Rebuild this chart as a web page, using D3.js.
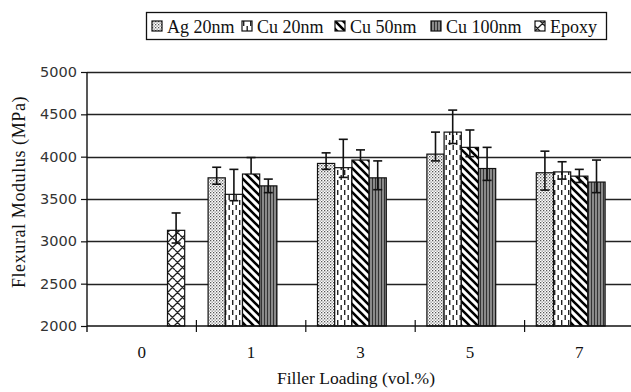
<!DOCTYPE html>
<html>
<head>
<meta charset="utf-8">
<script src="https://cdn.jsdelivr.net/npm/d3@7"></script>
<style>
  body { margin: 0; background: #fff; }
  svg { display: block; }
  .serif { font-family: "Liberation Serif", "Times New Roman", serif; fill: #111; }
</style>
</head>
<body>
<svg id="chart" width="631" height="392"></svg>
<script>
// ---- data ----
const categories = [ "0", "1", "3", "5", "7" ];
const seriesNames = [ "Ag 20nm", "Cu 20nm", "Cu 50nm", "Cu 100nm", "Epoxy" ];
const yTicks = [ 2000, 2500, 3000, 3500, 4000, 4500, 5000 ];

const agVals   = [ null, 3750, 3920, 4030, 3810 ];
const cu20Vals = [ null, 3555, 3870, 4290, 3820 ];
const cu50Vals = [ null, 3795, 3960, 4110, 3770 ];
const cu100Vals = [ null, 3655, 3750, 3860, 3700 ];
const epoxyVals = [ 3130, null, null, null, null ];

// error bars (plus / minus)
const agErrUp    = [ 0, 125, 125, 260, 255 ];
const agErrDn    = [ 0, 75, 70, 80, 205 ];
const cu20ErrUp  = [ 0, 295, 335, 260, 120 ];
const cu20ErrDn  = [ 0, 75, 115, 135, 85 ];
const cu50ErrUp  = [ 0, 195, 120, 205, 80 ];
const cu50ErrDn  = [ 0, 0, 0, 110, 75 ];
const cu100ErrUp = [ 0, 80, 200, 250, 260 ];
const cu100ErrDn = [ 0, 80, 140, 140, 125 ];
const epoxyErrUp = [ 205, 0, 0, 0, 0 ];
const epoxyErrDn = [ 150, 0, 0, 0, 0 ];

const seriesVals = [ agVals, cu20Vals, cu50Vals, cu100Vals, epoxyVals ];
const seriesUp = [ agErrUp, cu20ErrUp, cu50ErrUp, cu100ErrUp, epoxyErrUp ];
const seriesDn = [ agErrDn, cu20ErrDn, cu50ErrDn, cu100ErrDn, epoxyErrDn ];
const patIds = [ "pAg", "pCu20", "pCu50", "pCu100", "pEpoxy" ];

// ---- layout ----
const plotLeft = 87, plotRight = 634, plotTop = 72, plotBottom = 326;
const svg = d3.select( "#chart" );

// patterns
const defs = svg.append( "defs" );
function pattern( id, w, h ) {
  return defs.append( "pattern" ).attr( "id", id )
    .attr( "patternUnits", "userSpaceOnUse" )
    .attr( "width", w ).attr( "height", h );
}
let p = pattern( "pAg", 3, 3 );
p.append( "rect" ).attr( "width", 3 ).attr( "height", 3 ).attr( "fill", "#fff" );
p.append( "rect" ).attr( "width", 1.3 ).attr( "height", 1.3 ).attr( "fill", "#555" );
p.append( "rect" ).attr( "x", 1.5 ).attr( "y", 1.5 ).attr( "width", 1.3 ).attr( "height", 1.3 ).attr( "fill", "#888" );

p = pattern( "pCu20", 7, 10 );
p.append( "rect" ).attr( "width", 7 ).attr( "height", 10 ).attr( "fill", "#fff" );
p.append( "rect" ).attr( "x", 1 ).attr( "y", 0 ).attr( "width", 1.4 ).attr( "height", 5 ).attr( "fill", "#222" );
p.append( "rect" ).attr( "x", 4.5 ).attr( "y", 5 ).attr( "width", 1.4 ).attr( "height", 5 ).attr( "fill", "#222" );

p = pattern( "pCu50", 8, 8 );
p.append( "rect" ).attr( "width", 8 ).attr( "height", 8 ).attr( "fill", "#fff" );
p.append( "path" ).attr( "d", "M-2,-2 L10,10 M-2,6 L2,10 M6,-2 L10,2" )
  .attr( "stroke", "#000" ).attr( "stroke-width", 2.6 );

p = pattern( "pCu100", 3, 4 );
p.append( "rect" ).attr( "width", 3 ).attr( "height", 4 ).attr( "fill", "#8a8a8a" );
p.append( "rect" ).attr( "x", 0 ).attr( "width", 1 ).attr( "height", 4 ).attr( "fill", "#333" );

p = pattern( "pEpoxy", 10, 10 );
p.append( "rect" ).attr( "width", 10 ).attr( "height", 10 ).attr( "fill", "#fff" );
p.append( "path" ).attr( "d", "M-1,11 L11,-1 M-1,1 L1,-1 M9,11 L11,9 M0,5 L5,10 M5,0 L10,5" )
  .attr( "stroke", "#222" ).attr( "stroke-width", 1.3 ).attr( "fill", "none" );

// scales
const yScale = d3.scaleLinear().domain( [ 2000, 5000 ] ).range( [ plotBottom, plotTop ] );
const x0 = d3.scaleBand().domain( categories ).range( [ plotLeft, plotRight ] ).paddingInner( 0 ).paddingOuter( 0 );
const cw = x0.bandwidth();
const x1 = d3.scaleBand().domain( d3.range( seriesNames.length ) ).range( [ 11.7, cw - 11.7 ] ).padding( 0 );

// gridlines
svg.append( "g" ).selectAll( "line" )
  .data( yTicks.filter( t => t > 2000 ) )
  .enter().append( "line" )
  .attr( "x1", plotLeft ).attr( "x2", plotRight )
  .attr( "y1", d => Math.round( yScale( d ) ) + 0.5 ).attr( "y2", d => Math.round( yScale( d ) ) + 0.5 )
  .attr( "stroke", "#222" ).attr( "stroke-width", 1.3 );

// bars
const bars = [];
seriesVals.forEach( ( vals, s ) => {
  vals.forEach( ( v, c ) => {
    if ( v == null ) return;
    bars.push( { s, c, v, up: seriesUp[ s ][ c ], dn: seriesDn[ s ][ c ] } );
  } );
} );

svg.append( "g" ).selectAll( "rect" )
  .data( bars ).enter().append( "rect" )
  .attr( "x", d => x0( categories[ d.c ] ) + x1( d.s ) )
  .attr( "y", d => yScale( d.v ) )
  .attr( "width", x1.bandwidth() )
  .attr( "height", d => plotBottom - yScale( d.v ) )
  .attr( "fill", d => `url(#${patIds[ d.s ]})` )
  .attr( "stroke", "#111" ).attr( "stroke-width", 1.2 );

// error bars
const eb = svg.append( "g" ).attr( "stroke", "#111" ).attr( "stroke-width", 1.6 );
bars.forEach( d => {
  const cx = x0( categories[ d.c ] ) + x1( d.s ) + x1.bandwidth() / 2;
  const yHi = yScale( d.v + d.up ), yLo = yScale( d.v - d.dn );
  eb.append( "line" ).attr( "x1", cx ).attr( "x2", cx ).attr( "y1", yHi ).attr( "y2", yLo );
  if ( d.up > 0 ) eb.append( "line" ).attr( "x1", cx - 4.5 ).attr( "x2", cx + 4.5 ).attr( "y1", yHi ).attr( "y2", yHi );
  if ( d.dn > 0 ) eb.append( "line" ).attr( "x1", cx - 4.5 ).attr( "x2", cx + 4.5 ).attr( "y1", yLo ).attr( "y2", yLo );
} );

// y axis
const leftAxis = d3.axisLeft( yScale ).tickValues( yTicks ).tickSize( 6 ).tickPadding( 4 )
  .tickFormat( d3.format( "d" ) );
const gy = svg.append( "g" ).attr( "transform", `translate(${plotLeft},0)` ).call( leftAxis );
gy.select( ".domain" ).attr( "stroke", "#111" ).attr( "stroke-width", 1.4 ).attr( "d", `M0,${plotTop}V${plotBottom + 6}` );
gy.selectAll( ".tick line" ).attr( "stroke", "#111" ).attr( "stroke-width", 1.2 );
gy.selectAll( ".tick text" ).attr( "font-family", "DejaVu Sans, sans-serif" )
  .attr( "font-size", 14.5 ).attr( "fill", "#333" );

// x axis
svg.append( "line" ).attr( "x1", plotLeft ).attr( "x2", plotRight )
  .attr( "y1", plotBottom ).attr( "y2", plotBottom )
  .attr( "stroke", "#111" ).attr( "stroke-width", 1.4 );
svg.append( "g" ).selectAll( "line" )
  .data( categories.slice( 1 ) ).enter().append( "line" )
  .attr( "x1", d => x0( d ) ).attr( "x2", d => x0( d ) )
  .attr( "y1", plotBottom - 6 ).attr( "y2", plotBottom + 6 )
  .attr( "stroke", "#111" ).attr( "stroke-width", 1.2 );
svg.append( "g" ).selectAll( "text" )
  .data( categories ).enter().append( "text" )
  .attr( "class", "serif" )
  .attr( "x", d => x0( d ) + cw / 2 ).attr( "y", 358 )
  .attr( "text-anchor", "middle" ).attr( "font-size", 17 )
  .text( d => d );

// axis titles
svg.append( "text" ).attr( "class", "serif" )
  .attr( "x", 356 ).attr( "y", 384 ).attr( "text-anchor", "middle" )
  .attr( "font-size", 17.5 ).text( "Filler Loading (vol.%)" );
svg.append( "text" ).attr( "class", "serif" )
  .attr( "transform", "translate(25,192) rotate(-90)" ).attr( "text-anchor", "middle" )
  .attr( "font-size", 18 ).attr( "letter-spacing", 0.6 ).text( "Flexural Modulus (MPa)" );

// legend
const legend = svg.append( "g" );
legend.append( "rect" ).attr( "x", 146.5 ).attr( "y", 12.5 ).attr( "width", 460 ).attr( "height", 27 )
  .attr( "fill", "#fff" ).attr( "stroke", "#111" ).attr( "stroke-width", 1.3 );
const legX = [ 152, 242, 335, 431, 535 ];
const items = legend.selectAll( "g.item" ).data( seriesNames ).enter().append( "g" )
  .attr( "transform", ( d, i ) => `translate(${legX[ i ]},21)` );
items.append( "rect" ).attr( "width", 10 ).attr( "height", 10 )
  .attr( "fill", ( d, i ) => `url(#${patIds[ i ]})` )
  .attr( "stroke", "#111" ).attr( "stroke-width", 1.2 );
items.append( "text" ).attr( "class", "serif" )
  .attr( "x", 15 ).attr( "y", 11.5 ).attr( "font-size", 18 )
  .text( d => d );
</script>
</body>
</html>
